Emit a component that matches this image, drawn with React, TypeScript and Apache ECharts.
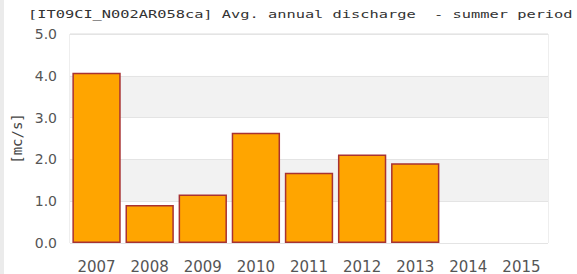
import React, { useEffect, useRef } from "react";
import * as echarts from "echarts";

const titleText = "[IT09CI_N002AR058ca] Avg. annual discharge  - summer period";
const yAxisName = "[mc/s]";
const years = ["2007", "2008", "2009", "2010", "2011", "2012", "2013", "2014", "2015"];
const discharge: (number | null)[] = [4.07, 0.91, 1.16, 2.64, 1.68, 2.12, 1.91, null, null];
const yMin = 0;
const yMax = 5;
const yStep = 1;

export default function App() {
  const ref = useRef<HTMLDivElement>(null);
  useEffect(() => {
    if (!ref.current) return;
    const chart = echarts.init(ref.current, undefined, { renderer: "svg" });
    chart.setOption({
      animation: false,
      backgroundColor: "#ffffff",
      graphic: [
        {
          type: "rect",
          shape: { x: 0, y: 0, width: 4, height: 274 },
          style: { fill: "#ebebeb" },
          silent: true,
        },
        {
          type: "text",
          x: 28,
          y: 15,
          scaleX: 1.535,
          style: {
            text: titleText,
            font: "10px 'DejaVu Sans Mono'",
            fill: "#333333",
            verticalAlign: "middle",
            align: "left",
          },
        },
      ],
      grid: {
        left: 70,
        right: 29,
        top: 34,
        bottom: 31,
        show: true,
        borderColor: "#dddddd",
        borderWidth: 1,
        backgroundColor: "transparent",
      },
      xAxis: {
        type: "category",
        data: years,
        axisLine: { show: false },
        axisTick: { show: false },
        axisLabel: {
          color: "#555555",
          fontFamily: "DejaVu Sans",
          fontSize: 15,
          margin: 16,
          interval: 0,
        },
      },
      yAxis: {
        type: "value",
        min: yMin,
        max: yMax,
        interval: yStep,
        name: yAxisName,
        nameLocation: "middle",
        nameGap: 39,
        nameTextStyle: {
          color: "#444444",
          fontFamily: "DejaVu Sans Mono",
          fontSize: 14,
        },
        axisLine: { show: false },
        axisTick: { show: false },
        axisLabel: {
          color: "#555555",
          fontFamily: "DejaVu Sans",
          fontSize: 14,
          margin: 13,
          formatter: (v: number) => v.toFixed(1),
        },
        splitLine: { show: true, lineStyle: { color: "#e4e4e4", width: 1 } },
        splitArea: {
          show: true,
          areaStyle: { color: ["#ffffff", "#f2f2f2"] },
        },
      },
      series: [
        {
          type: "bar",
          data: discharge,
          barCategoryGap: "9%",
          itemStyle: {
            color: "#ffa500",
            borderColor: "#a83232",
            borderWidth: 1.5,
          },
        },
      ],
    });
    return () => chart.dispose();
  }, []);
  return <div ref={ref} style={{ width: 577, height: 274, position: "absolute", left: 0, top: 0 }} />;
}
